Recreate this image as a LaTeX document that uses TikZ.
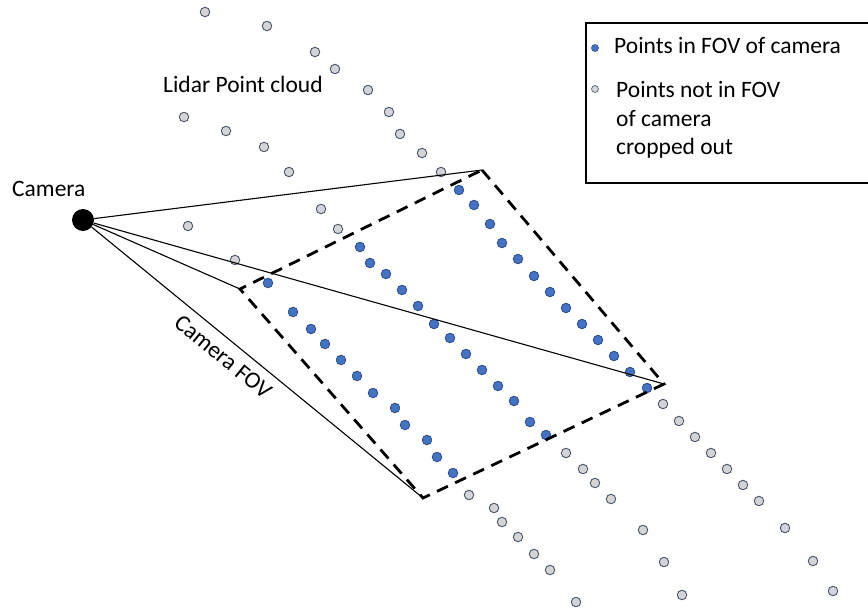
\documentclass[tikz,border=0pt]{standalone}
\usepackage{fontspec}
\setmainfont{Carlito}
\usepackage{tikz}
\definecolor{ptblue}{HTML}{4472C4}
\definecolor{ptblueedge}{HTML}{2F528F}
\definecolor{ptgray}{HTML}{D4D4D8}
\definecolor{ptgrayedge}{HTML}{4A5568}

\begin{document}
\begin{tikzpicture}[x=1pt,y=-1pt,font=\fontsize{23.5}{28}\selectfont,
  inpt/.style={circle,draw=ptblueedge,fill=ptblue,line width=0.9pt,inner sep=0pt,minimum size=9.5pt},
  outpt/.style={circle,draw=ptgrayedge,fill=ptgray,line width=0.9pt,inner sep=0pt,minimum size=9.5pt},
  fov/.style={line width=1.1pt},
  frustum/.style={line width=2.8pt,dash pattern=on 12pt off 8pt},
  lbl/.style={anchor=base west,inner sep=0pt}]
\useasboundingbox (0,0) rectangle (868,608);
% camera and the four far corners
\node[circle,fill=black,inner sep=0pt,minimum size=22pt] (C) at (83,220) {};
\node[lbl] (camlbl) at (12,196) {Camera};
\coordinate (T) at (482,170);
\coordinate (R) at (664,384);
\coordinate (B) at (423,498);
\coordinate (L) at (240,289);
% lidar points outside the FOV
\foreach \x/\y [count=\i] in {205/12,267/26,315/52,335/69,368/90,389/112,400/134,422/153,441/172,
  184/117,226/131,264/147,289/172,321/209,338/229,188/226,235/260,
  663/404,679/421,695/437,711/453,727/469,743/485,759/501,785/528,813/561,833/591,
  566/453,583/469,595/483,611/499,643/530,664/562,682/595,
  469/495,494/508,502/522,518/537,534/554,550/570,576/602}
  \node[outpt] (o\i) at (\x,\y) {};
% lidar points inside the FOV
\foreach \x/\y [count=\i] in {459/190,474/205,490/224,502/243,518/259,534/276,550/292,566/308,582/324,598/340,614/356,630/372,647/388,
  360/247,370/263,386/274,402/290,418/306,434/324,450/338,466/354,482/370,498/386,514/401,530/422,546/435,
  268/283,293/312,311/329,325/344,341/360,357/376,373/393,395/408,405/425,427/440,437/457,453/473}
  \node[inpt] (i\i) at (\x,\y) {};
\path[fov]
(C) edge (T)
    edge (R)
    edge (L)
    edge node[sloped,below,pos=0.43,inner sep=9pt] (fovlbl) {Camera FOV} (B);
\draw[frustum] (T) -- (R) -- (B) -- (L) -- cycle;
\node[lbl] (lidar) at (163,92) {Lidar Point cloud};
% legend
\draw[line width=1.1pt] (586,23) rectangle (880,183);
\node[inpt,minimum size=7pt,line width=0.6pt] (kin) at (595,48) {};
\node[outpt,minimum size=7pt,line width=0.6pt] (kout) at (595,89) {};
\node[lbl] (kintxt) at (614,53) {Points in FOV of camera};
\node[lbl] (kouttxt) at (616,97) {Points not in FOV};
\node[lbl] (kouttxt2) at (616,126) {of camera};
\node[lbl] (kouttxt3) at (616,154) {cropped out};
\end{tikzpicture}
\end{document}
